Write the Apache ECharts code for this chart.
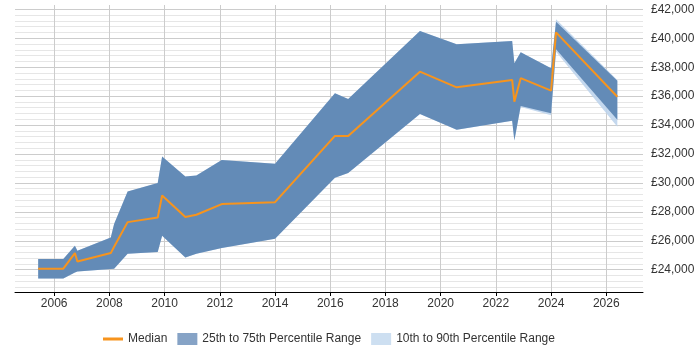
<!DOCTYPE html>
<html>
<head>
<meta charset="utf-8">
<script src="https://cdn.jsdelivr.net/npm/echarts@6/dist/echarts.min.js"></script>
<style>
html, body { margin: 0; padding: 0; background: #fff; }
#main { width: 700px; height: 350px; }
</style>
</head>
<body>
<div id="main"></div>
<script>
// points in decimal years
var years  = [2005.42, 2006.33, 2006.75, 2006.84, 2008.05, 2008.17, 2008.66, 2009.75, 2009.91, 2010.75, 2011.15, 2012.07, 2014.0, 2016.17, 2016.65, 2019.25, 2020.58, 2022.59, 2022.67, 2022.9, 2024.0, 2024.18, 2026.4];
var median = [24070, 24070, 25150, 24570, 25150, 25590, 27290, 27610, 29130, 27640, 27800, 28540, 28670, 33250, 33250, 37690, 36610, 37120, 35620, 37240, 36380, 40410, 35960];
var p25    = [23400, 23400, 23800, 23880, 24050, 24070, 25100, 25220, 26350, 24850, 25100, 25500, 26140, 30350, 30680, 34770, 33670, 34290, 32930, 35320, 34820, 39240, 34360];
var p75    = [24740, 24740, 25660, 25310, 26230, 27160, 29410, 29990, 31820, 30440, 30510, 31590, 31320, 36200, 35810, 40500, 39580, 39810, 38270, 39030, 37930, 41140, 37070];
var p10    = [23400, 23400, 23800, 23880, 24050, 24070, 25100, 25220, 26350, 24850, 25100, 25500, 26140, 30350, 30680, 34770, 33670, 34290, 32930, 35250, 34680, 39070, 33890];
var p90    = [24740, 24740, 25660, 25310, 26230, 27160, 29410, 29990, 31820, 30440, 30510, 31590, 31320, 36200, 35810, 40500, 39580, 39810, 38270, 39030, 37930, 41310, 37120];

var yearTicks = [2006, 2008, 2010, 2012, 2014, 2016, 2018, 2020, 2022, 2024, 2026];
var salaryTicks = [24000, 26000, 28000, 30000, 32000, 34000, 36000, 38000, 40000, 42000];

// grid lines every 400, darker on the labelled ones
var gridValues = [];
for (var g = 22800; g <= 42000; g += 400) gridValues.push(g);
var gridColors = gridValues.slice(0, 5).map(function(v) {
    return v % 2000 === 0 ? '#cccccc' : '#e6e6e6';
});

function pairs(ys) {
    return years.map(function(x, i) { return [x, ys[i]]; });
}

// one polygon per band, built from the lower and upper arrays
function band(name, lo, hi, fill) {
    return {
        name: name,
        type: 'custom',
        silent: true,
        color: fill,
        data: years.map(function(x, i) { return [x, lo[i], hi[i]]; }),
        encode: { x: 0, y: [1, 2] },
        renderItem: function(params, api) {
            if (params.dataIndex !== 0) return null;
            var pts = [];
            for (var i = 0; i < years.length; i++) pts.push(api.coord([years[i], hi[i]]));
            for (var j = years.length - 1; j >= 0; j--) pts.push(api.coord([years[j], lo[j]]));
            return { type: 'polygon', shape: { points: pts }, style: { fill: fill } };
        }
    };
}

var font = 'Liberation Sans, Arial, sans-serif';
var medianIcon = 'path://M0,0h0.01v0.01h-0.01z M0,4.5h20v3h-20z M19.99,11.99h0.01v0.01h-0.01z';

var myChart = echarts.init(document.getElementById('main'));
var option = {
    animation: false,
    grid: { left: 15, right: 57, top: 5, bottom: 58 },
    legend: {
        left: 98,
        top: 328,
        itemWidth: 20,
        itemHeight: 12,
        itemGap: 10,
        textStyle: { fontSize: 12, color: '#333', fontFamily: font },
        data: [
            { name: 'Median', icon: medianIcon, itemStyle: { color: '#f7941d' } },
            { name: '25th to 75th Percentile Range', icon: 'rect', itemStyle: { color: '#86a3c6' } },
            { name: '10th to 90th Percentile Range', icon: 'rect', itemStyle: { color: '#cddff1' } }
        ]
    },
    xAxis: {
        type: 'value',
        min: 2004.58,
        max: 2027.33,
        axisLine: { lineStyle: { color: '#000', width: 1 } },
        axisTick: { customValues: yearTicks, length: 4, lineStyle: { color: '#000' } },
        axisLabel: {
            customValues: yearTicks,
            margin: 6,
            fontSize: 12,
            color: '#333',
            fontFamily: font,
            formatter: function(v) { return String(v); }
        },
        splitLine: { show: true, lineStyle: { color: '#cccccc' } }
    },
    yAxis: {
        type: 'value',
        position: 'right',
        min: 22460,
        max: 42300,
        axisLine: { show: false },
        axisTick: { show: false, customValues: gridValues },
        axisLabel: {
            customValues: salaryTicks,
            margin: 8,
            fontSize: 12,
            color: '#333',
            fontFamily: font,
            formatter: function(v) { return '£' + v.toLocaleString('en-GB'); }
        },
        splitLine: { show: true, lineStyle: { color: gridColors } }
    },
    series: [
        band('10th to 90th Percentile Range', p10, p90, 'rgba(190,212,236,0.9)'),
        band('25th to 75th Percentile Range', p25, p75, 'rgba(89,131,177,0.9)'),
        {
            name: 'Median',
            type: 'line',
            data: pairs(median),
            symbol: 'none',
            color: '#f7941d',
            lineStyle: { color: '#f7941d', width: 2 }
        }
    ]
};
myChart.setOption(option);
</script>
</body>
</html>
